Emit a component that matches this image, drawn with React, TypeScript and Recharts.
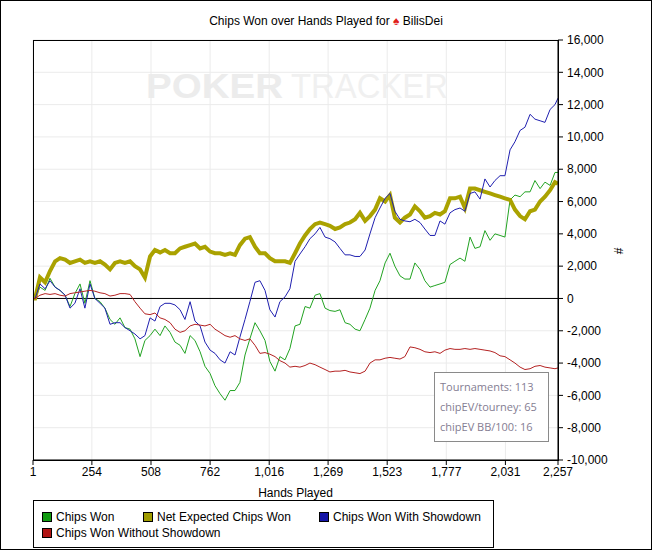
import React from 'react';
import { LineChart, Line, XAxis, YAxis, CartesianGrid, ReferenceLine } from 'recharts';

// hands played (x) and running totals
const hands = [
  1,
  10, 31, 53, 74, 96, 117, 139, 160, 181, 203,
  224, 246, 267, 289, 310, 332, 353, 375, 396, 418,
  439, 461, 482, 504, 525, 547, 568, 590, 611, 633,
  654, 676, 697, 719, 740, 762, 783, 805, 826, 848,
  869, 890, 912, 933, 955, 976, 998, 1019, 1041, 1062,
  1084, 1105, 1127, 1148, 1170, 1191, 1213, 1234, 1256, 1277,
  1299, 1320, 1342, 1363, 1385, 1406, 1428, 1449, 1471, 1492,
  1514, 1535, 1556, 1578, 1599, 1621, 1642, 1664, 1685, 1707,
  1728, 1750, 1771, 1793, 1814, 1836, 1857, 1879, 1900, 1922,
  1943, 1965, 1986, 2008, 2029, 2051, 2072, 2094, 2115, 2137,
  2158, 2180, 2201, 2223, 2244,
  2257,
];

const chipsWon = [
  0,
  0, 700, 500, 1250, 700, 500, 200, -500, 300, 900,
  -300, 1100, 0, -200, -600, -1300, -1600, -1200, -1800, -1900,
  -2500, -3600, -2600, -2300, -1900, -2300, -1700, -2100, -2700, -2900,
  -3400, -2300, -2600, -3300, -4200, -4650, -5400, -5900, -6300, -5700,
  -5700, -5200, -3500, -2500, -1500, -2000, -2600, -3900, -4500, -3600,
  -3800, -3100, -1700, -1600, -500, -600, 200, 300, -600, -750,
  -800, -700, -1500, -1600, -1900, -2000, -1300, -600, 500, 1100,
  2200, 2800, 2000, 1400, 1200, 1200, 2200, 1800, 1100, 700,
  800, 900, 1000, 2100, 2300, 2500, 2300, 3800, 3100, 3200,
  4200, 3600, 4000, 3900, 3800, 6100, 6400, 6300, 6600, 6600,
  7300, 6800, 7200, 7000, 7800,
  7800,
];

const netExpected = [
  0,
  0, 1300, 1000, 1700, 2300, 2500, 2400, 2200, 2300, 2400,
  2200, 2300, 2200, 2300, 2100, 1800, 2200, 2300, 2200, 2300,
  2000, 1800, 1300, 2600, 3000, 2850, 3000, 2800, 2800, 3100,
  3200, 3300, 3400, 3100, 3200, 2900, 2800, 2800, 2700, 2800,
  2700, 3300, 3700, 3800, 3200, 2800, 2800, 2500, 2300, 2300,
  2300, 2200, 2800, 3400, 3900, 4300, 4600, 4700, 4600, 4500,
  4300, 4400, 4600, 4700, 4900, 5300, 4800, 5100, 5500, 6200,
  6000, 6400, 5000, 4700, 5000, 5200, 5700, 5400, 5000, 5100,
  5300, 5200, 5400, 6200, 6200, 6300, 5600, 6800, 6800, 6700,
  6600, 6500, 6400, 6300, 6200, 6100, 5500, 5100, 4900, 5400,
  5500, 6000, 6300, 6700, 7200,
  7100,
];

const withShowdown = [
  0,
  0, 900, 600, 1100, 700, 500, 200, -600, -300, 600,
  -600, 900, 0, -300, -600, -1600, -1500, -1500, -1800, -2000,
  -2200, -2500, -2300, -1200, -1400, -500, -300, -300, -400, -700,
  -1300, -200, -1400, -1700, -2700, -3200, -3400, -3800, -4000, -3300,
  -3500, -2400, -1300, -200, 1000, 1100, 500, -700, -1150, -200,
  100, 600, 2300, 2750, 3200, 3700, 4000, 4400, 3800, 3700,
  3500, 3100, 2700, 2700, 2600, 2600, 3000, 4000, 5000, 5600,
  6200, 6500, 5400, 4900, 4800, 4750, 4900, 4700, 4300, 3900,
  3900, 4800, 4600, 5300, 5500, 5600, 5400, 6500, 6600, 6150,
  7400, 6900, 7300, 7600, 7600, 9200, 9700, 10400, 10600, 11400,
  11100, 11000, 10900, 11700, 12000,
  12400,
];

const withoutShowdown = [
  0,
  0, 200, 300, 250, 300, 200, 150, 300, 350, 400,
  450, 500, 450, 350, 300, 150, 200, 300, 300, 250,
  -200, -600, -950, -1000, -900, -1200, -1300, -1500, -1900, -2100,
  -2000, -1700, -1600, -1650, -1700, -1600, -1900, -2100, -2300, -2400,
  -2300, -2500, -2600, -2500, -2900, -3400, -3350, -3450, -3600, -3850,
  -4000, -4250, -4200, -4250, -4150, -4000, -4100, -4250, -4400, -4550,
  -4500, -4500, -4450, -4550, -4600, -4650, -4500, -4000, -3800, -3800,
  -3700, -3650, -3700, -3750, -3600, -3000, -3050, -3150, -3300, -3350,
  -3300, -3400, -3200, -3100, -3150, -3150, -3100, -3150, -3100, -3150,
  -3200, -3250, -3350, -3550, -3600, -3800, -4000, -4250, -4400, -4350,
  -4200, -4150, -4250, -4300, -4350,
  -4300,
];

const xTicks = [1, 254, 508, 762, 1016, 1269, 1523, 1777, 2031, 2257];
const yTicks = [-10000, -8000, -6000, -4000, -2000, 0, 2000, 4000, 6000, 8000, 10000, 12000, 14000, 16000];
const statLines = ['Tournaments: 113', 'chipEV/tourney: 65', 'chipEV BB/100: 16'];

const legendItems = [
  { label: 'Chips Won', color: '#109a10', left: 42, top: 510 },
  { label: 'Net Expected Chips Won', color: '#a09c00', left: 143, top: 510 },
  { label: 'Chips Won With Showdown', color: '#1414a6', left: 319, top: 510 },
  { label: 'Chips Won Without Showdown', color: '#b01414', left: 42, top: 526 },
];

const data = hands.map((h, i) => ({
  hand: h,
  won: chipsWon[i],
  ev: netExpected[i],
  sd: withShowdown[i],
  nosd: withoutShowdown[i],
}));

const fmt = (v: number) => v.toLocaleString('en-US');
const font = '"Liberation Sans", Arial, sans-serif';

export default function App() {
  return (
    <div style={{ position: 'absolute', left: 0, top: 0, width: 652, height: 550, background: '#fff', fontFamily: font, fontSize: 12, color: '#000' }}>
      {/* watermark */}
      <svg width={652} height={550} style={{ position: 'absolute', left: 0, top: 0 }}>
        <text x={146} y={98} fontSize={35} fontWeight="bold" fill="#ececec" textLength={137} lengthAdjust="spacingAndGlyphs" fontFamily={font}>POKER</text>
        <text x={291} y={98} fontSize={35} fill="#f0f0f0" textLength={157} lengthAdjust="spacingAndGlyphs" fontFamily={font}>TRACKER</text>
      </svg>

      <div style={{ position: 'absolute', left: 0, width: 652, top: 14, textAlign: 'center', fontSize: 12 }}>
        Chips Won over Hands Played for <span style={{ color: '#e0201a' }}>♠</span> BilisDei
      </div>

      <div style={{ position: 'absolute', left: 0, top: 0 }}>
        <LineChart width={652} height={550} data={data} margin={{ top: 40, right: 34, bottom: 50, left: 33 }}>
          <CartesianGrid stroke="#ebebeb" strokeWidth={1} />
          <XAxis
            dataKey="hand"
            type="number"
            domain={[1, 2257]}
            ticks={xTicks}
            tickFormatter={fmt}
            height={40}
            tickSize={5}
            tickMargin={2}
            interval={0}
            stroke="#000"
            tick={{ fill: '#000', fontSize: 12, fontFamily: font }}
            label={{ value: 'Hands Played', position: 'insideBottom', offset: 3, fill: '#000', fontSize: 12, fontFamily: font }}
          />
          <YAxis
            orientation="right"
            type="number"
            domain={[-10000, 16000]}
            ticks={yTicks}
            tickFormatter={fmt}
            width={60}
            tickSize={5}
            tickMargin={4}
            interval={0}
            stroke="#000"
            tick={{ fill: '#000', fontSize: 12, fontFamily: font, textAnchor: 'start' }}
          />
          <ReferenceLine y={0} stroke="#000" strokeWidth={1} />
          <Line type="linear" dataKey="won" stroke="#22a322" strokeWidth={1} dot={false} isAnimationActive={false} />
          <Line type="linear" dataKey="ev" stroke="#aaa200" strokeWidth={4} dot={false} isAnimationActive={false} />
          <Line type="linear" dataKey="sd" stroke="#2020b0" strokeWidth={1} dot={false} isAnimationActive={false} />
          <Line type="linear" dataKey="nosd" stroke="#b42222" strokeWidth={1} dot={false} isAnimationActive={false} />
        </LineChart>
      </div>

      {/* plot frame */}
      <div style={{ position: 'absolute', left: 33, top: 40, width: 526, height: 421, border: '1px solid #000', boxSizing: 'border-box', pointerEvents: 'none' }} />

      <div style={{ position: 'absolute', left: 616, top: 244, fontSize: 12, transform: 'rotate(-90deg)' }}>#</div>

      {/* stats box */}
      <div style={{ position: 'absolute', left: 434, top: 372, width: 115, height: 70, boxSizing: 'border-box', border: '1px solid #8a8a8a', background: '#fff', padding: '4px 0 0 5px', fontFamily: '"Open Sans", "Noto Sans", sans-serif', fontSize: 11, color: '#847d92', lineHeight: '20px' }}>
        {statLines.map((s) => (
          <div key={s}>{s}</div>
        ))}
      </div>

      {/* legend */}
      <div style={{ position: 'absolute', left: 33, top: 500, width: 461, height: 48, boxSizing: 'border-box', border: '1px solid #000' }} />
      {legendItems.map((it) => (
        <div key={it.label} style={{ position: 'absolute', left: it.left, top: it.top, display: 'flex', alignItems: 'center', whiteSpace: 'nowrap', fontSize: 12 }}>
          <span style={{ display: 'inline-block', width: 8, height: 8, background: it.color, border: '1px solid #000', marginRight: 4 }} />
          {it.label}
        </div>
      ))}

      {/* outer frame */}
      <div style={{ position: 'absolute', left: 0, top: 0, width: 652, height: 550, border: '1px solid #000', boxSizing: 'border-box', pointerEvents: 'none' }} />
    </div>
  );
}
